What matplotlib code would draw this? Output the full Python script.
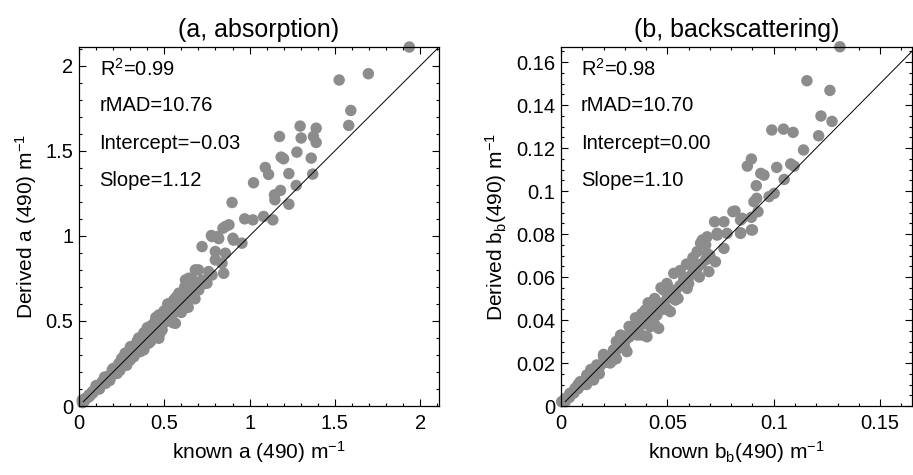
import numpy as np
import matplotlib.pyplot as plt
from matplotlib.ticker import MultipleLocator

plt.rcParams['font.family'] = ['Liberation Sans', 'DejaVu Sans']
plt.rcParams['mathtext.fontset'] = 'custom'
plt.rcParams['mathtext.rm'] = 'Liberation Sans'
plt.rcParams['mathtext.it'] = 'Liberation Sans:italic'

# (known, derived) absorption a(490)
pts_a = [
    (1.936, 2.11), (1.696, 1.953), (1.525, 1.916), (1.593, 1.737), (1.581, 1.649),
    (1.296, 1.645), (1.390, 1.633), (1.175, 1.584), (1.302, 1.575), (1.374, 1.584),
    (1.390, 1.549), (1.277, 1.492), (1.185, 1.463), (1.199, 1.453), (1.361, 1.457),
    (1.092, 1.402), (1.111, 1.361), (1.230, 1.366), (1.370, 1.363), (1.023, 1.312),
    (1.273, 1.296), (1.181, 1.267), (1.146, 1.241), (1.148, 1.212), (1.230, 1.186),
    (0.897, 1.196), (0.971, 1.100), (1.019, 1.094), (1.082, 1.114), (1.136, 1.094),
    (0.879, 1.065), (0.844, 1.045), (0.776, 1.002), (0.813, 0.996), (0.902, 0.986),
    (0.858, 1.055), (0.780, 0.996), (0.819, 0.984), (0.906, 0.975), (0.955, 0.957),
    (0.721, 0.937), (0.799, 0.908), (0.858, 0.898), (0.799, 0.859), (0.838, 0.839),
    (0.848, 0.780), (0.682, 0.800), (0.643, 0.751), (0.624, 0.741), (0.750, 0.722),
    (0.702, 0.682), (0.585, 0.663), (0.556, 0.624), (0.624, 0.624), (0.526, 0.584),
    (0.497, 0.555), (0.585, 0.565), (0.468, 0.535), (0.565, 0.486), (0.439, 0.486),
    (0.487, 0.447), (0.468, 0.398), (0.409, 0.427), (0.380, 0.398), (0.409, 0.369),
    (0.302, 0.349), (0.351, 0.329), (0.322, 0.290), (0.253, 0.271), (0.234, 0.251),
    (0.195, 0.212), (0.224, 0.192), (0.175, 0.173), (0.136, 0.143), (0.156, 0.133),
    (0.107, 0.114), (0.078, 0.084), (0.058, 0.065), (0.039, 0.045), (0.019, 0.035),
    (0.029, 0.025), (0.02, 0.02), (0.03, 0.03), (0.05, 0.05), (0.06, 0.055),
    (0.08, 0.075), (0.09, 0.09), (0.10, 0.10), (0.11, 0.10), (0.12, 0.12),
    (0.13, 0.125), (0.14, 0.13), (0.15, 0.15), (0.16, 0.15), (0.17, 0.16),
    (0.18, 0.18), (0.19, 0.175), (0.20, 0.19), (0.21, 0.20), (0.22, 0.22),
    (0.23, 0.21), (0.24, 0.23), (0.25, 0.24), (0.26, 0.25), (0.27, 0.26),
    (0.28, 0.27), (0.29, 0.29), (0.30, 0.29), (0.31, 0.30), (0.32, 0.32),
    (0.33, 0.31), (0.34, 0.34), (0.35, 0.35), (0.36, 0.34), (0.37, 0.37),
    (0.38, 0.37), (0.39, 0.40), (0.40, 0.39), (0.41, 0.42), (0.42, 0.41),
    (0.43, 0.44), (0.44, 0.43), (0.45, 0.46), (0.46, 0.44), (0.47, 0.49),
    (0.48, 0.47), (0.49, 0.50), (0.50, 0.49), (0.51, 0.53), (0.52, 0.51),
    (0.53, 0.55), (0.54, 0.53), (0.55, 0.57), (0.56, 0.55), (0.57, 0.60),
    (0.58, 0.58), (0.60, 0.62), (0.61, 0.59), (0.62, 0.65), (0.63, 0.62),
    (0.65, 0.66), (0.66, 0.65), (0.68, 0.71), (0.70, 0.69), (0.72, 0.74),
    (0.74, 0.72), (0.76, 0.79), (0.78, 0.77), (0.10, 0.12), (0.15, 0.17),
    (0.20, 0.22), (0.25, 0.28), (0.30, 0.34), (0.34, 0.38), (0.38, 0.43),
    (0.42, 0.47), (0.46, 0.52), (0.50, 0.56), (0.53, 0.60), (0.57, 0.64),
    (0.62, 0.70), (0.66, 0.75), (0.70, 0.80), (0.12, 0.10), (0.18, 0.15),
    (0.24, 0.21), (0.30, 0.27), (0.36, 0.32), (0.42, 0.38), (0.48, 0.44),
    (0.54, 0.50), (0.45, 0.52), (0.52, 0.60), (0.40, 0.46), (0.47, 0.42),
    (0.55, 0.49), (0.60, 0.55), (0.35, 0.40), (0.38, 0.33), (0.27, 0.31),
    (0.28, 0.24), (0.64, 0.58), (0.68, 0.63),
]

# (known, derived) backscattering bb(490)
pts_b = [
    (0.1311, 0.1671), (0.1156, 0.1513), (0.1264, 0.1468), (0.1222, 0.1349), (0.1274, 0.1324),
    (0.0991, 0.1284), (0.1046, 0.1288), (0.1091, 0.1273), (0.1211, 0.1257), (0.1140, 0.1191),
    (0.0895, 0.1149), (0.0876, 0.1116), (0.0939, 0.1082), (0.0954, 0.1074), (0.1014, 0.1110),
    (0.1080, 0.1126), (0.1096, 0.1116), (0.1049, 0.1054), (0.0918, 0.1025), (0.1002, 0.0989),
    (0.0978, 0.0974), (0.0920, 0.0966), (0.0926, 0.0904), (0.0818, 0.0907), (0.0844, 0.0865),
    (0.0895, 0.0878), (0.0722, 0.0857), (0.0766, 0.0857), (0.0895, 0.0819), (0.0844, 0.0806),
    (0.0734, 0.0795), (0.0781, 0.0803), (0.0664, 0.0772), (0.0808, 0.0904), (0.0852, 0.0873),
    (0.0907, 0.0950), (0.0844, 0.0803), (0.0900, 0.0819), (0.0687, 0.0787), (0.0734, 0.0803),
    (0.0656, 0.0757), (0.0640, 0.0718), (0.0687, 0.0710), (0.0766, 0.0733), (0.0726, 0.0671),
    (0.0695, 0.0625), (0.0608, 0.0656), (0.0530, 0.0617), (0.0577, 0.0594), (0.0498, 0.0570),
    (0.0483, 0.0539), (0.0593, 0.0547), (0.0538, 0.0493), (0.0514, 0.0439), (0.0420, 0.0477),
    (0.0396, 0.0446), (0.0451, 0.0423), (0.0357, 0.0392), (0.0420, 0.0369), (0.0459, 0.0361),
    (0.0325, 0.0346), (0.0404, 0.0322), (0.0271, 0.0292), (0.0310, 0.0253), (0.0247, 0.0261),
    (0.0200, 0.0230), (0.0231, 0.0200), (0.0168, 0.0191), (0.0121, 0.0144), (0.0153, 0.0121),
    (0.0090, 0.0113), (0.0066, 0.0082), (0.0042, 0.0059), (0.0019, 0.0035), (0.0003, 0.0020),
    (0.002, 0.002), (0.004, 0.004), (0.006, 0.006), (0.008, 0.008), (0.010, 0.010),
    (0.012, 0.012), (0.014, 0.014), (0.016, 0.016), (0.018, 0.018), (0.020, 0.020),
    (0.022, 0.022), (0.024, 0.024), (0.026, 0.026), (0.028, 0.028), (0.030, 0.030),
    (0.032, 0.032), (0.034, 0.034), (0.036, 0.036), (0.038, 0.038), (0.040, 0.040),
    (0.042, 0.042), (0.044, 0.044), (0.046, 0.046), (0.048, 0.048), (0.050, 0.050),
    (0.052, 0.052), (0.054, 0.054), (0.056, 0.056), (0.058, 0.058), (0.060, 0.060),
    (0.062, 0.062), (0.064, 0.064), (0.066, 0.066), (0.068, 0.068), (0.070, 0.070),
    (0.008, 0.010), (0.014, 0.017), (0.020, 0.024), (0.026, 0.030), (0.032, 0.037),
    (0.038, 0.043), (0.044, 0.050), (0.050, 0.056), (0.056, 0.063), (0.062, 0.069),
    (0.068, 0.075), (0.012, 0.010), (0.018, 0.015), (0.024, 0.021), (0.030, 0.027),
    (0.036, 0.033), (0.042, 0.039), (0.048, 0.045), (0.054, 0.051), (0.060, 0.057),
    (0.035, 0.041), (0.041, 0.048), (0.047, 0.055), (0.038, 0.033), (0.044, 0.038),
    (0.050, 0.045), (0.055, 0.050), (0.028, 0.033), (0.026, 0.022), (0.065, 0.060),
    (0.059, 0.066),
]

stats_a = ['R$^2$=0.99', 'rMAD=10.76', 'Intercept=\u22120.03', 'Slope=1.12']
stats_b = ['R$^2$=0.98', 'rMAD=10.70', 'Intercept=0.00', 'Slope=1.10']

gray = '#8c8c8c'
fig = plt.figure(figsize=(9.13, 4.75), dpi=100)
ax1 = fig.add_axes([79 / 913, 69 / 475, 360 / 913, 359 / 475])
ax2 = fig.add_axes([561 / 913, 69 / 475, 351 / 913, 359 / 475])

panels = [
    (ax1, pts_a, stats_a, '(a, absorption)', 'known a (490) m$^{-1}$', 'Derived a (490) m$^{-1}$',
     2.11, 2.11, 0.5, 0.1, 0.5, 0.1, 0.025),
    (ax2, pts_b, stats_b, '(b, backscattering)', r'known b$_\mathrm{b}$(490) m$^{-1}$',
     r'Derived b$_\mathrm{b}$(490) m$^{-1}$', 0.165, 0.167, 0.05, 0.01, 0.02, 0.005, 0.002),
]

for ax, pts, stats, title, xlab, ylab, xmax, ymax, xmaj, xmin_, ymaj, ymin_, l0 in panels:
    p = np.array(pts)
    ax.scatter(p[:, 0], p[:, 1], s=68, color=gray, edgecolors='none', clip_on=False, zorder=2)
    ax.plot([l0, 0.2 + ymax], [l0, 0.2 + ymax], color='black', lw=0.7, zorder=3)
    ax.set_xlim(0, xmax)
    ax.set_ylim(0, ymax)
    ax.xaxis.set_major_locator(MultipleLocator(xmaj))
    ax.xaxis.set_minor_locator(MultipleLocator(xmin_))
    ax.yaxis.set_major_locator(MultipleLocator(ymaj))
    ax.yaxis.set_minor_locator(MultipleLocator(ymin_))
    ax.xaxis.set_major_formatter(plt.FuncFormatter(lambda v, _: ('%g' % round(v, 6))))
    ax.yaxis.set_major_formatter(plt.FuncFormatter(lambda v, _: ('%g' % round(v, 6))))
    ax.tick_params(which='both', direction='in', top=True, right=True, labelsize=14.5, width=0.8)
    ax.tick_params(axis='x', pad=6)
    ax.tick_params(axis='y', pad=4)
    ax.tick_params(which='major', length=5)
    ax.tick_params(which='minor', length=2.5)
    for s in ax.spines.values():
        s.set_linewidth(0.9)
    ax.set_title(title, fontsize=18, pad=7)
    ax.set_xlabel(xlab, fontsize=15, labelpad=4)
    ax.set_ylabel(ylab, fontsize=15, labelpad=5)
    for i, t in enumerate(stats):
        ax.text(0.057, 0.94 - i * 0.104, t, transform=ax.transAxes, fontsize=14.5, va='center')

fig.savefig('out.png', dpi=100)
